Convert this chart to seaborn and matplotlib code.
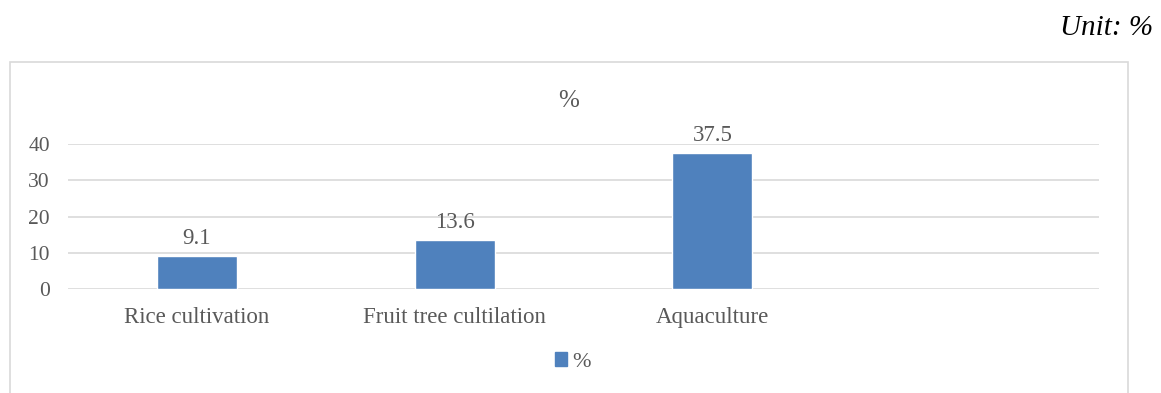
import matplotlib
matplotlib.use("Agg")
import matplotlib.pyplot as plt
from matplotlib.patches import Rectangle, Patch
import seaborn as sns
import pandas as pd

categories = ["Rice cultivation", "Fruit tree cultilation", "Aquaculture"]
values = [9.1, 13.6, 37.5]
series_name = "%"
y_ticks = [0, 10, 20, 30, 40]

sns.set_theme(style="white")
plt.rcParams["font.family"] = ["Liberation Serif", "DejaVu Serif"]

TEXT = "#595959"
GRID = "#D9D9D9"
BAR = "#4F81BD"

W, H = 1161, 393
fig = plt.figure(figsize=(W / 100, H / 100), dpi=100)

# outer chart frame (open at the bottom edge)
fig.patches.append(Rectangle((10 / W, -0.05), (1128 - 10) / W, 1.05 - 62 / H,
                             transform=fig.transFigure, fill=False,
                             edgecolor=GRID, linewidth=1.2))

ax = fig.add_axes([68 / W, 1 - 289 / H, (1099 - 68) / W, (289 - 144) / H])

df = pd.DataFrame({"category": categories, "value": values})
order = categories + [" "]
sns.barplot(data=df, x="category", y="value", order=order, color=BAR,
            width=0.31, saturation=1, ax=ax, zorder=3)

ax.set_ylim(0, 40)
ax.set_xlim(-0.5, len(order) - 0.5)
ax.set_yticks(y_ticks)
ax.set_yticklabels([str(t) for t in y_ticks])
ax.yaxis.grid(True, color=GRID, linewidth=1.2, zorder=0)
ax.set_axisbelow(True)
for s in ax.spines.values():
    s.set_visible(False)
ax.tick_params(axis="y", length=0, colors=TEXT, labelsize=15.5, pad=13)
ax.tick_params(axis="x", length=0, colors=TEXT, labelsize=16.5, pad=13)
ax.set_xlabel("")
ax.set_ylabel("")

for i, v in enumerate(values):
    ax.annotate(f"{v:.1f}", (i, v), xytext=(0, 5), textcoords="offset points",
                ha="center", va="bottom", fontsize=16.5, color=TEXT,
                annotation_clip=False)

fig.text(569 / W, 1 - 101 / H, series_name, ha="center", va="center",
         fontsize=18, color=TEXT)
fig.text(1153 / W, 1 - 28 / H, "Unit: %", ha="right", va="center",
         fontsize=21, style="italic", color="black")

handle = Patch(facecolor=BAR, edgecolor=BAR, label=series_name)
fig.legend(handles=[handle], loc="center", bbox_to_anchor=(573 / W, 1 - 362 / H),
           frameon=False, fontsize=16, handlelength=0.55, handleheight=0.55,
           handletextpad=0.25, labelcolor=TEXT)

fig.savefig("out.png", dpi=100)
